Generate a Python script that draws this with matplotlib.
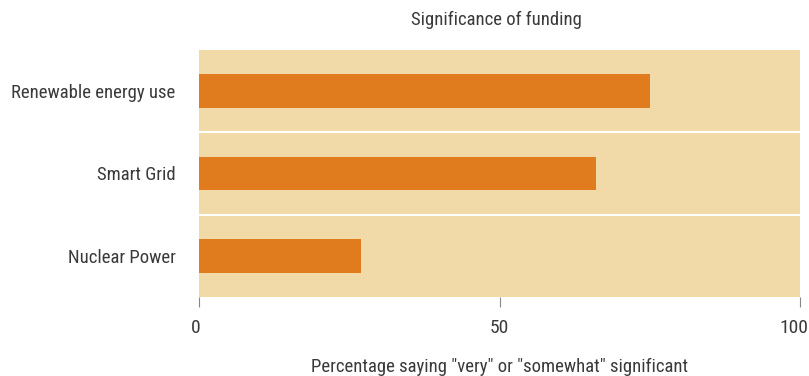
import matplotlib
matplotlib.use("Agg")
import matplotlib.pyplot as plt
from matplotlib import font_manager
import matplotlib.transforms as mtransforms

names = {f.name for f in font_manager.fontManager.ttflist}
fam = None
for cand in ["Roboto Condensed", "Open Sans Condensed", "Liberation Sans Narrow", "Noto Sans Condensed"]:
    if cand in names:
        fam = cand
        break
stretch = "normal"
if fam is None:
    fam = "DejaVu Sans"
    stretch = "condensed"
plt.rcParams['font.family'] = [fam, 'DejaVu Sans']
plt.rcParams['font.stretch'] = stretch

categories = ["Nuclear Power", "Smart Grid", "Renewable energy use"]
values = [27, 66, 75]
xticks = [0, 50, 100]

bg = "#F2D9A8"
bar_color = "#E07B1E"
text_color = "#3a3a3a"

fig = plt.figure(figsize=(8.09, 3.76), dpi=100)
ax = fig.add_axes([199/809, 1-297/376, 601/809, 247/376])
ax.set_facecolor(bg)
ypos = list(range(len(categories)))
ax.barh(ypos, values, height=0.41, color=bar_color, zorder=2)
for b in [0.5, 1.5]:
    ax.axhline(b, color="white", lw=1.5, zorder=3)
ax.set_xlim(0, 100)
ax.set_ylim(-0.5, len(categories)-0.5)
ax.set_yticks(ypos)
ax.set_yticklabels(categories, fontsize=13.5, color=text_color)
ax.tick_params(axis='y', length=0, pad=17)
ax.set_xticks(xticks)
ax.set_xticklabels([str(t) for t in xticks], fontsize=14, color=text_color)
ax.tick_params(axis='x', length=7, color="#888888", pad=9)
labs = ax.get_xticklabels()
labs[0].set_transform(labs[0].get_transform() + mtransforms.ScaledTranslation(-3/100, 0, fig.dpi_scale_trans))
labs[-1].set_transform(labs[-1].get_transform() + mtransforms.ScaledTranslation(-6/100, 0, fig.dpi_scale_trans))
for s in ax.spines.values():
    s.set_visible(False)
ax.set_xlabel('Percentage saying "very" or "somewhat" significant', fontsize=13.5, color=text_color, labelpad=15)
fig.text(496/809, 1-20/376, "Significance of funding", ha="center", va="center", fontsize=13.5, color=text_color)
fig.savefig("out.png", dpi=100)
